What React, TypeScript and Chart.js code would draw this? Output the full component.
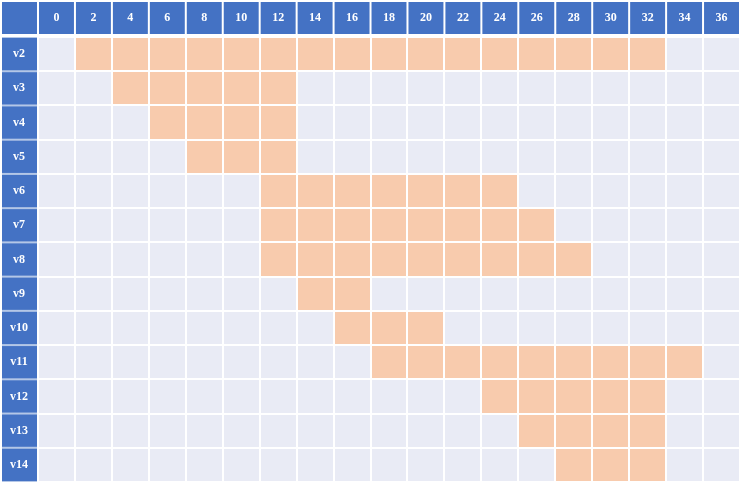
import React, { useEffect, useRef } from "react";
import { Chart, registerables } from "chart.js";

Chart.register(...registerables);

const categories = ["v2", "v3", "v4", "v5", "v6", "v7", "v8", "v9", "v10", "v11", "v12", "v13", "v14"];
const startCols = [2, 4, 6, 8, 12, 12, 12, 14, 16, 18, 24, 26, 28];
const endCols = [32, 12, 12, 12, 24, 26, 28, 16, 20, 34, 32, 32, 32];
const tickLabels = [0, 2, 4, 6, 8, 10, 12, 14, 16, 18, 20, 22, 24, 26, 28, 30, 32, 34, 36];

const HEADER_BLUE = "#4472C4";
const BODY_BG = "#E9EBF5";
const BAR_COLOR = "#F8CBAD";
const FONT = "'Liberation Serif', 'Times New Roman', serif";

const tablePlugin = {
  id: "tableBg",
  beforeDraw(chart: any) {
    const { ctx, chartArea, scales } = chart;
    const xs = scales.x;
    const ys = scales.y;
    ctx.save();
    // body background
    ctx.fillStyle = BODY_BG;
    ctx.fillRect(chartArea.left, chartArea.top, chartArea.right - chartArea.left, chartArea.bottom - chartArea.top);
    // header row cells
    ctx.fillStyle = HEADER_BLUE;
    const hTop = xs.top;
    const hBottom = xs.bottom - 3;
    ctx.fillRect(ys.left, hTop, chartArea.left - 1 - ys.left, hBottom - hTop);
    tickLabels.forEach((v) => {
      const x0 = xs.getPixelForValue(v - 1) + 1;
      const x1 = xs.getPixelForValue(v + 1) - 1;
      ctx.fillRect(x0, hTop, x1 - x0, hBottom - hTop);
    });
    // first column cells
    ctx.fillStyle = "#B4C7E7";
    ctx.fillRect(ys.left, chartArea.top, chartArea.left - 1 - ys.left, chartArea.bottom - chartArea.top);
    ctx.fillStyle = HEADER_BLUE;
    const n = categories.length;
    const rowH = (chartArea.bottom - chartArea.top) / n;
    categories.forEach((_, i) => {
      const c = ys.getPixelForValue(i);
      const y0 = c - rowH / 2 + 1;
      const y1 = c + rowH / 2 - 1;
      ctx.fillRect(ys.left, y0, chartArea.left - 1 - ys.left, y1 - y0);
    });
    ctx.restore();
  },
};

export default function App() {
  const ref = useRef<HTMLCanvasElement | null>(null);
  useEffect(() => {
    if (!ref.current) return;
    const chart = new Chart(ref.current, {
      type: "bar",
      data: {
        labels: categories,
        datasets: [
          {
            label: "span",
            data: categories.map((_, i) => [startCols[i] - 1, endCols[i] + 1]) as any,
            backgroundColor: BAR_COLOR,
            borderWidth: 0,
            barPercentage: 1,
            categoryPercentage: 1,
          },
        ],
      },
      options: {
        indexAxis: "y",
        animation: false,
        responsive: false,
        layout: { padding: { left: 2, top: 2, right: 2, bottom: 2 } },
        plugins: { legend: { display: false }, tooltip: { enabled: false } },
        scales: {
          x: {
            type: "linear",
            position: "top",
            min: -1,
            max: 37,
            afterBuildTicks: (scale: any) => {
              scale.ticks = tickLabels.map((v) => ({ value: v }));
            },
            afterFit: (scale: any) => {
              scale.height = 35;
              scale.paddingLeft = 0;
              scale.paddingRight = 0;
            },
            grid: { color: "#FFFFFF", lineWidth: 2, offset: true, drawTicks: false, z: 1 },
            border: { display: false },
            ticks: {
              color: "#FFFFFF",
              padding: 12,
              font: { family: FONT, size: 12, weight: "bold" },
              maxRotation: 0,
              autoSkip: false,
            },
          },
          y: {
            type: "category",
            afterFit: (scale: any) => {
              scale.width = 36;
              scale.paddingTop = 0;
              scale.paddingBottom = 0;
            },
            grid: { color: "#FFFFFF", lineWidth: 2, offset: true, drawTicks: false, z: 1 },
            border: { display: false },
            ticks: {
              color: "#FFFFFF",
              padding: 10,
              crossAlign: "center",
              font: { family: FONT, size: 12, weight: "bold" },
            },
          },
        },
      } as any,
      plugins: [tablePlugin],
    });
    return () => chart.destroy();
  }, []);
  return (
    <div style={{ position: "absolute", left: 0, top: 0, width: 742, height: 484, background: "#FFFFFF" }}>
      <canvas ref={ref} width={742} height={484} style={{ display: "block" }} />
    </div>
  );
}
